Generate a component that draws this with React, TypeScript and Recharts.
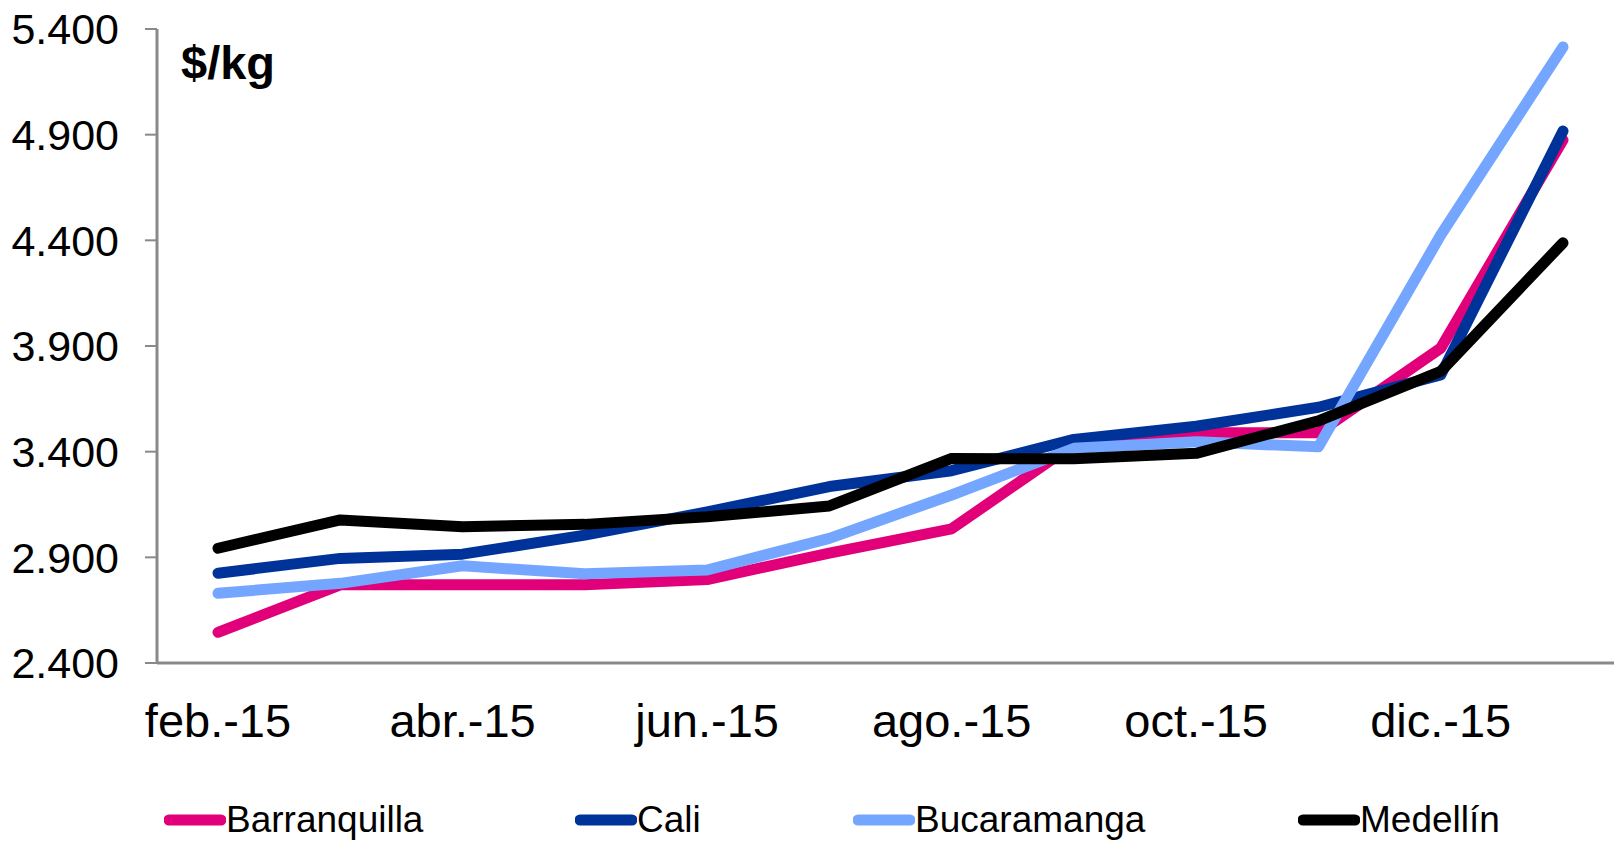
import React from 'react';
import { LineChart, Line, XAxis, YAxis, Legend } from 'recharts';

// monthly prices ($/kg), feb 2015 - ene 2016
const months = [
    'feb.-15', 'mar.-15', 'abr.-15', 'may.-15', 'jun.-15', 'jul.-15',
    'ago.-15', 'sep.-15', 'oct.-15', 'nov.-15', 'dic.-15', 'ene.-16',
];
const barranquilla = [2545, 2770, 2770, 2770, 2795, 2920, 3035, 3435, 3490, 3490, 3890, 4875];
const cali = [2825, 2895, 2915, 3005, 3115, 3235, 3310, 3458, 3520, 3610, 3763, 4917];
const bucaramanga = [2730, 2777, 2860, 2822, 2840, 2990, 3195, 3416, 3447, 3423, 4425, 5315];
const medellin = [2943, 3077, 3045, 3056, 3092, 3143, 3368, 3366, 3392, 3546, 3780, 4388];
const yTicks = [2400, 2900, 3400, 3900, 4400, 4900, 5400];

const series = [
    { key: 'Barranquilla', color: '#E2007A', values: barranquilla },
    { key: 'Cali', color: '#003399', values: cali },
    { key: 'Bucaramanga', color: '#75A6FF', values: bucaramanga },
    { key: 'Medellín', color: '#000000', values: medellin },
];

const data = months.map((m, i) => {
    const row: Record<string, string | number> = { month: m };
    series.forEach((s) => {
        row[s.key] = s.values[i];
    });
    return row;
});

const FONT = '"Liberation Sans", Arial, sans-serif';
const AXIS = '#898989';

const fmt = (v: number) => `${Math.floor(v / 1000)}.${String(v % 1000).padStart(3, '0')}`;

// legend item positions (x of the line swatch)
const legendX = [164, 575, 853, 1298];

function LegendContent() {
    return (
        <div style={{ position: 'relative', width: 1630, height: 40, fontFamily: FONT }}>
            {series.map((s, i) => (
                <div
                    key={s.key}
                    style={{
                        position: 'absolute',
                        left: legendX[i],
                        top: 0,
                        height: 40,
                        display: 'flex',
                        alignItems: 'center',
                        whiteSpace: 'nowrap',
                    }}
                >
                    <svg width={62} height={14} style={{ display: 'block' }}>
                        <line x1={5} y1={7} x2={57} y2={7} stroke={s.color} strokeWidth={11} strokeLinecap="round" />
                    </svg>
                    <span style={{ fontSize: 37, color: '#000', lineHeight: '40px' }}>{s.key}</span>
                </div>
            ))}
        </div>
    );
}

export default function App() {
    return (
        <div style={{ position: 'absolute', left: 0, top: 0, width: 1614, height: 842, overflow: 'hidden', background: '#fff' }}>
            <LineChart width={1630} height={842} data={data} margin={{ top: 29, right: 6, bottom: 0, left: 0 }}>
                <XAxis
                    dataKey="month"
                    interval={1}
                    padding={{ left: 61, right: 61 }}
                    height={139}
                    tickLine={false}
                    tickSize={0}
                    tickMargin={41}
                    axisLine={{ stroke: AXIS, strokeWidth: 3 }}
                    tick={{ fill: '#000', fontSize: 47, fontFamily: FONT }}
                />
                <YAxis
                    domain={[2400, 5400]}
                    ticks={yTicks}
                    interval={0}
                    width={157}
                    tickSize={12}
                    tickMargin={26}
                    tickFormatter={fmt}
                    axisLine={{ stroke: AXIS, strokeWidth: 3 }}
                    tickLine={{ stroke: AXIS, strokeWidth: 2 }}
                    tick={{ fill: '#000', fontSize: 43, fontFamily: FONT }}
                    label={{
                        content: ({ viewBox }: any) => (
                            <text
                                x={viewBox.x + viewBox.width + 24}
                                y={viewBox.y + 50}
                                fontSize={47}
                                fontWeight="bold"
                                fontFamily={FONT}
                                fill="#000"
                            >
                                $/kg
                            </text>
                        ),
                    }}
                />
                <Legend
                    verticalAlign="bottom"
                    content={<LegendContent />}
                    wrapperStyle={{ left: 0, bottom: 2, width: 1630, height: 40 }}
                />
                {series.map((s) => (
                    <Line
                        key={s.key}
                        type="linear"
                        dataKey={s.key}
                        stroke={s.color}
                        strokeWidth={11}
                        strokeLinecap="round"
                        strokeLinejoin="round"
                        dot={false}
                        activeDot={false}
                        isAnimationActive={false}
                    />
                ))}
            </LineChart>
        </div>
    );
}
